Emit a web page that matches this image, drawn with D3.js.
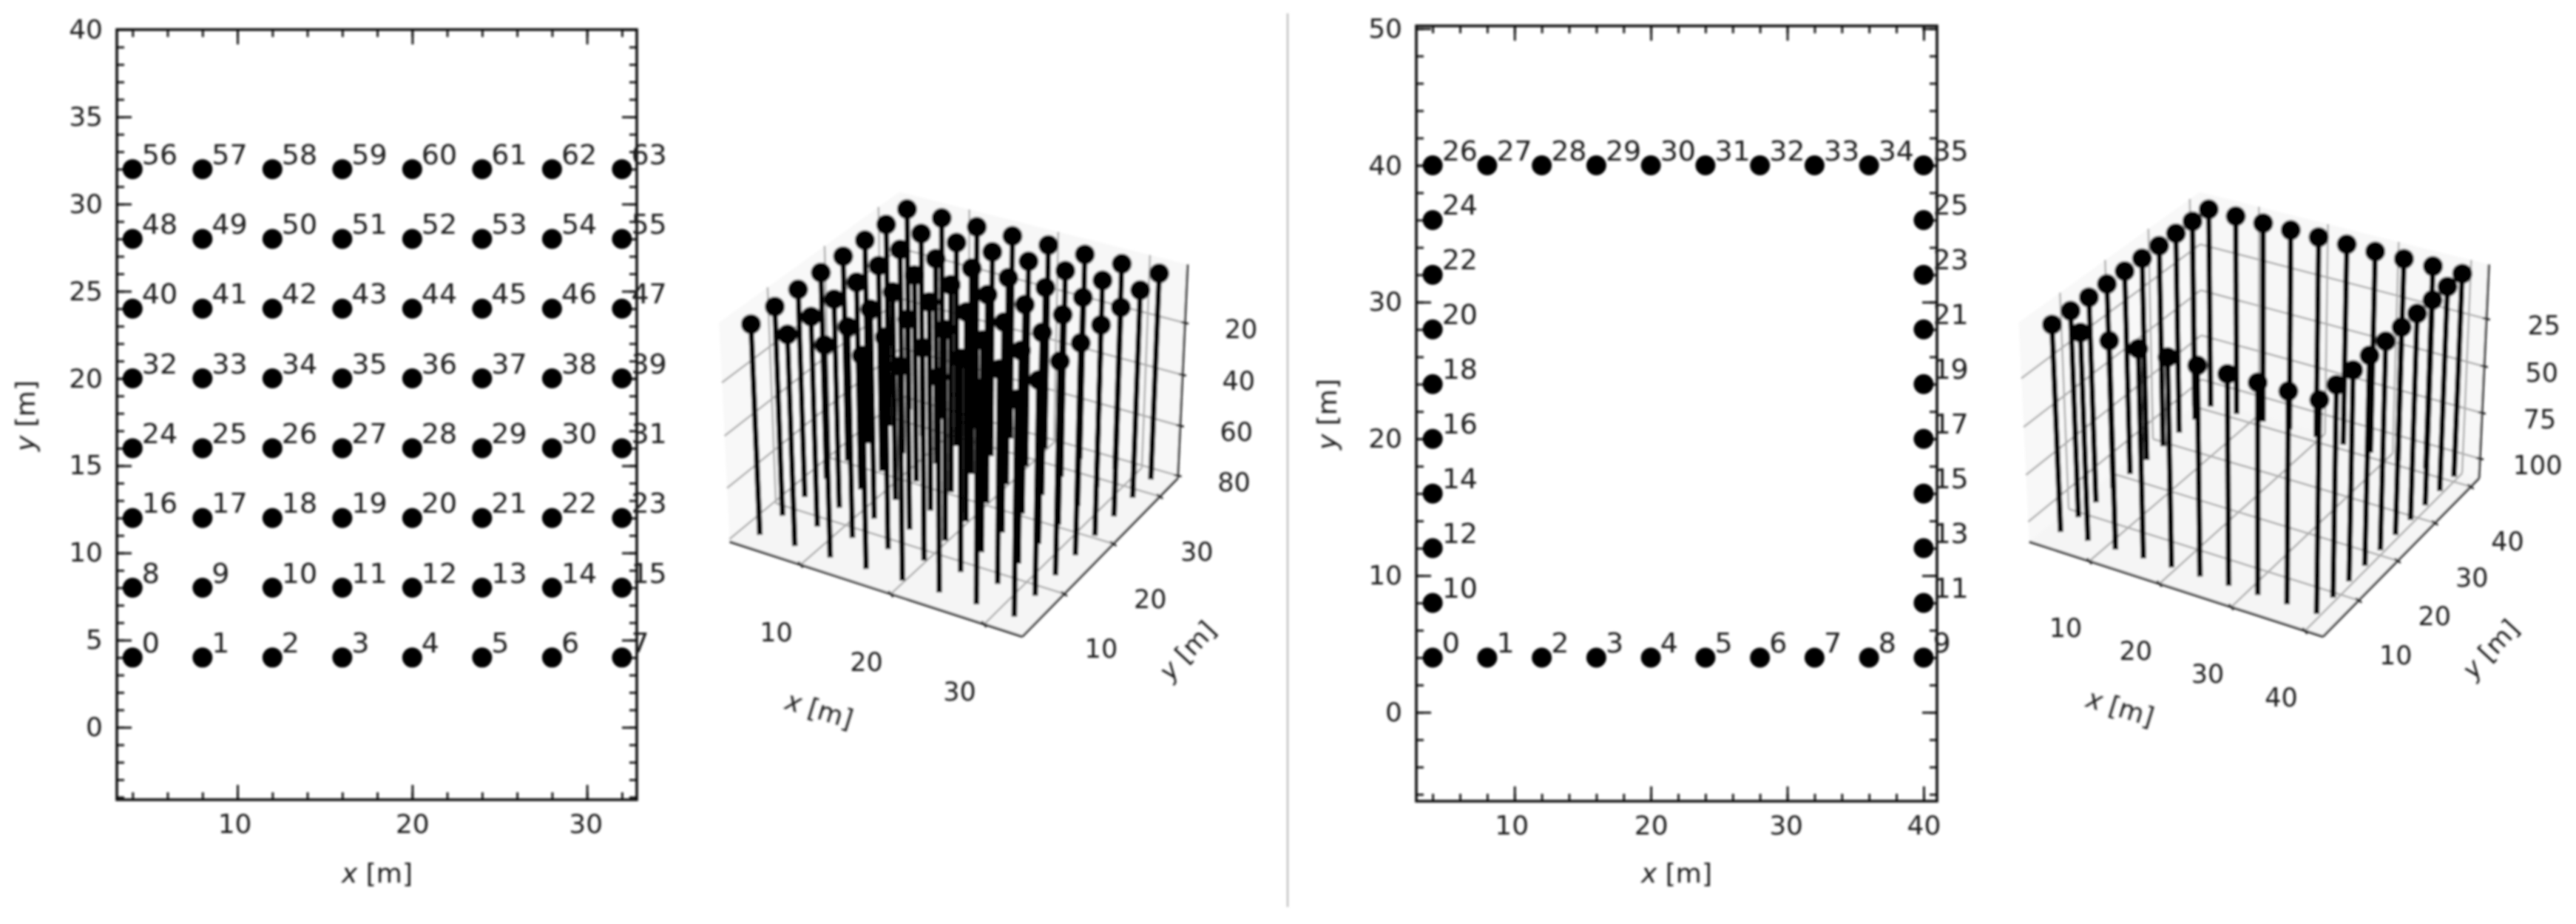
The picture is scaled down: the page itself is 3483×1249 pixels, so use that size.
<!DOCTYPE html>
<html><head><meta charset="utf-8">
<script src="https://cdn.jsdelivr.net/npm/d3@7"></script>
<style>html,body{margin:0;padding:0;background:#fff}svg{display:block}text{font-family:"DejaVu Sans";fill:#1c1c1c}</style>
</head><body><svg id="c" width="3483" height="1249"></svg>
<script>
const gridXs = [4,8,12,16,20,24,28,32];
const gridYs = [4,8,12,16,20,24,28,32];
const ringBottomXs = [4,8,12,16,20,24,28,32,36,40];
const ringSideYs = [8,12,16,20,24,28,32,36];
const ringTopY = 40, ringBottomY = 4, ringLeftX = 4, ringRightX = 40;
const gridDepth = 80, ringDepth = 108;
const ticks2dA = {xMajor:[10,20,30], xMinor:d3.range(4,34,2), yMajor:[0,5,10,15,20,25,30,35,40], yMinor:d3.range(-4,41,1)};
const ticks2dB = {xMajor:[10,20,30,40], xMinor:d3.range(4,42,2), yMajor:[0,10,20,30,40,50], yMinor:d3.range(-6,51,2)};
const ticks3dA = {x:[10,20,30], y:[10,20,30], z:[20,40,60,80]};
const ticks3dB = {x:[10,20,30,40], y:[10,20,30,40], z:[25,50,75,100]};

const gridPts = gridYs.flatMap(y => gridXs.map(x => ({x,y})));
const ringPts = [
  ...ringBottomXs.map(x => ({x,y:ringBottomY})),
  ...ringSideYs.flatMap(y => [{x:ringLeftX,y},{x:ringRightX,y}]),
  ...ringBottomXs.map(x => ({x,y:ringTopY}))
];

const FS = 36, LFS = 38;
const labelNudge = {10:-4,30:-2};
const svg = d3.select('#c');
const defs = svg.append('defs');
defs.append('filter').attr('id','soft').attr('filterUnits','userSpaceOnUse')
  .attr('x',0).attr('y',0).attr('width',3483).attr('height',1249)
  .append('feGaussianBlur').attr('stdDeviation',1.7);
const root = svg.append('g').attr('filter','url(#soft)');

root.append('line').attr('x1',1741).attr('x2',1741).attr('y1',18).attr('y2',1226)
  .attr('stroke','#c0c0c0').attr('stroke-width',2.5);

function panel2d(o){
  const g = root.append('g');
  const x = d3.scaleLinear().domain(o.xd).range([o.l,o.r]);
  const y = d3.scaleLinear().domain(o.yd).range([o.b,o.t]);
  const axes = [
    [()=>d3.axisBottom(x),o.b,'x',true],[()=>d3.axisTop(x),o.t,'x',false],
    [()=>d3.axisLeft(y),o.l,'y',true],[()=>d3.axisRight(y),o.r,'y',false]
  ];
  axes.forEach(([ax,pos,k,lab]) => {
    const tr = k==='x' ? `translate(0,${pos})` : `translate(${pos},0)`;
    const major = k==='x'?o.ticks.xMajor:o.ticks.yMajor, minor = k==='x'?o.ticks.xMinor:o.ticks.yMinor;
    const a1 = ax().tickValues(minor).tickSize(-10).tickFormat(()=>'');
    const am = g.append('g').attr('transform',tr).call(a1);
    const a2 = ax().tickValues(major).tickSize(-20).tickPadding(19).tickFormat(lab?d3.format('d'):()=>'');
    const aM = g.append('g').attr('transform',tr).call(a2);
    [am,aM].forEach(s=>{s.select('.domain').remove();
      s.selectAll('line').attr('stroke','#111').attr('stroke-width',2.8);
      s.selectAll('text').attr('font-size',FS).attr('font-family','DejaVu Sans').attr('fill','#1c1c1c');});
    if(k==='x') aM.selectAll('text').attr('dx',d=>labelNudge[d]||0);
  });
  g.append('rect').attr('x',o.l).attr('y',o.t).attr('width',o.r-o.l).attr('height',o.b-o.t)
    .attr('fill','none').attr('stroke','#111').attr('stroke-width',3.6);
  g.selectAll('circle.p').data(o.pts).join('circle').attr('class','p')
    .attr('cx',d=>x(d.x)).attr('cy',d=>y(d.y)).attr('r',13.5).attr('fill','#000');
  g.selectAll('text.n').data(o.pts).join('text').attr('class','n')
    .attr('x',d=>x(d.x)+12.5).attr('y',d=>y(d.y)-7).attr('font-size',LFS).text((d,i)=>i);
  const xl = g.append('text').attr('x',o.xlab[0]).attr('y',o.xlab[1]).attr('font-size',FS).attr('text-anchor','middle');
  xl.append('tspan').attr('font-style','italic').text('x');
  xl.append('tspan').text(' [m]');
  const yl = g.append('text').attr('transform',`translate(${o.ylab[0]},${o.ylab[1]}) rotate(-90)`).attr('font-size',FS).attr('text-anchor','middle');
  yl.append('tspan').attr('font-style','italic').text('y');
  yl.append('tspan').text(' [m]');
}

function camera(o){
  const rad = Math.PI/180, el=o.elev*rad, az=o.azim*rad;
  const asp = o.aspect, n = Math.hypot(...asp), k = 1.8294640721620434*25/24/n;
  const A = asp.map(v=>v*k), R = A.map(v=>v/2);
  const w = [Math.cos(el)*Math.cos(az),Math.cos(el)*Math.sin(az),Math.sin(el)];
  const eye = R.map((v,i)=>v+o.dist*w[i]);
  const cross=(a,b)=>[a[1]*b[2]-a[2]*b[1],a[2]*b[0]-a[0]*b[2],a[0]*b[1]-a[1]*b[0]];
  const dot=(a,b)=>a[0]*b[0]+a[1]*b[1]+a[2]*b[2];
  let u = cross([0,0,1],w); const nu=Math.hypot(...u); u=u.map(v=>v/nu);
  const v = cross(w,u);
  const sx = d3.scaleLinear().domain(o.xlim).range([0,A[0]]);
  const sy = d3.scaleLinear().domain(o.ylim).range([0,A[1]]);
  const sz = d3.scaleLinear().domain(o.zlim).range([A[2],0]); // depth axis points down
  const raw = (x,y,z)=>{const q=[sx(x)-eye[0],sy(y)-eye[1],sz(z)-eye[2]];const d=-dot(w,q);return [dot(u,q)/d,dot(v,q)/d];};
  // least-squares fit of the projection plane to the picture's box corners
  const fit = (idx)=>{const xs=o.anchors.map(c=>raw(o.xlim[c[0]],o.ylim[c[1]],o.zlim[c[2]])[idx]),ys=o.anchors.map(c=>c[3+idx]);
    const mx=d3.mean(xs),my=d3.mean(ys);const b=d3.sum(xs,(q,i)=>(q-mx)*(ys[i]-my))/d3.sum(xs,q=>(q-mx)*(q-mx));return [b,my-b*mx];};
  const fx=fit(0),fy=fit(1);
  return (x,y,z)=>{const r=raw(x,y,z);return [fx[0]*r[0]+fx[1],fy[0]*r[1]+fy[1]];};
}

function panel3d(o){
  const g = root.append('g');
  const P = camera(o);
  const [x0,x1]=o.xlim,[y0,y1]=o.ylim,[zt,zf]=o.zlim;
  const poly=(pts,fill)=>g.append('path').attr('d',d3.line()(pts)+'Z').attr('fill',fill).attr('stroke','none');
  poly([P(x0,y0,zf),P(x1,y0,zf),P(x1,y1,zf),P(x0,y1,zf)],'#f5f5f5');
  poly([P(x0,y0,zf),P(x0,y1,zf),P(x0,y1,zt),P(x0,y0,zt)],'#f8f8f8');
  poly([P(x0,y1,zf),P(x1,y1,zf),P(x1,y1,zt),P(x0,y1,zt)],'#f7f7f7');
  const seg=(a,b,col,w)=>g.append('line').attr('x1',a[0]).attr('y1',a[1]).attr('x2',b[0]).attr('y2',b[1]).attr('stroke',col).attr('stroke-width',w);
  const GC='#aeaeae',GW=2.6;
  o.ticks.x.forEach(t=>{seg(P(t,y0,zf),P(t,y1,zf),GC,GW);seg(P(t,y1,zf),P(t,y1,zt),GC,GW);});
  o.ticks.y.forEach(t=>{seg(P(x1,t,zf),P(x0,t,zf),GC,GW);seg(P(x0,t,zf),P(x0,t,zt),GC,GW);});
  o.ticks.z.forEach(t=>{seg(P(x0,y0,t),P(x0,y1,t),GC,GW);seg(P(x0,y1,t),P(x1,y1,t),GC,GW);});
  const AC='#222',AW=3;
  seg(P(x0,y0,zf),P(x1,y0,zf),AC,AW);seg(P(x1,y0,zf),P(x1,y1,zf),AC,AW);seg(P(x1,y1,zf),P(x1,y1,zt),AC,AW);
  const tick=(p,dx,dy)=>seg([p[0]-dx,p[1]-dy],[p[0]+dx,p[1]+dy],AC,2.6);
  const lab=(p,off,t)=>g.append('text').attr('x',p[0]+off[0]).attr('y',p[1]+off[1]).attr('dy','.36em')
    .attr('text-anchor','middle').attr('font-size',o.fs).text(t);
  o.ticks.x.forEach(t=>{const p=P(t,y0,zf);tick(p,3,4);lab(p,o.offX,t);});
  o.ticks.y.forEach(t=>{const p=P(x1,t,zf);tick(p,4,3);lab(p,o.offY,t);});
  o.ticks.z.forEach(t=>{const p=P(x1,y1,t);tick(p,5,1);lab(p,o.offZ,t);});
  const mk=(pos,rot,first)=>{const t=g.append('text').attr('transform',`translate(${pos[0]},${pos[1]}) rotate(${rot})`)
    .attr('text-anchor','middle').attr('dy','.36em').attr('font-size',o.fs);
    t.append('tspan').attr('font-style','italic').text(first);t.append('tspan').text(' [m]');};
  mk(o.xlab,17,'x');mk(o.ylab,-47,'y');
  // pins, back to front
  const order = o.pts.slice().sort((a,b)=>P(a.x,a.y,zf)[1]-P(b.x,b.y,zf)[1]);
  order.forEach(d=>{
    const a=P(d.x,d.y,0),b=P(d.x,d.y,o.depth);
    seg(a,b,'#000',7.5);
    g.append('circle').attr('cx',a[0]).attr('cy',a[1]).attr('r',13.5).attr('fill','#000');
  });
}

panel2d({l:158,r:861,t:40,b:1081,xd:[3.1,32.85],yd:[-4.15,40],ticks:ticks2dA,pts:gridPts,xlab:[510,1193],ylab:[47,562]});
panel2d({l:1915,r:2619,t:35,b:1083,xd:[2.8,40.98],yd:[-6.5,50.2],ticks:ticks2dB,pts:ringPts,xlab:[2267,1193],ylab:[1807,560]});

panel3d({elev:30,azim:-60,dist:10,aspect:[4,4,3],xlim:[1.9,34],ylim:[1.9,34],zlim:[-2,81],
  anchors:[[0,0,1,986,732],[1,0,1,1383,864],[1,1,1,1593,640],[1,1,0,1605,357],[0,1,0,1215,260],[0,0,0,973,439]],
  ticks:ticks3dA,pts:gridPts,depth:gridDepth,fs:35,offX:[-33,91],offY:[50,74],offZ:[76,8],xlab:[1108,959],ylab:[1605,879]});
panel3d({elev:30,azim:-60,dist:10,aspect:[4,4,3],xlim:[1.2,42.4],ylim:[1.2,42.4],zlim:[-3,110.8],
  anchors:[[0,0,1,2745,732],[1,0,1,3142,864],[1,1,1,3354,643],[1,1,0,3367,354],[0,1,0,2962,265],[0,0,0,2735,434]],
  ticks:ticks3dB,pts:ringPts,depth:ringDepth,fs:35,offX:[-32,90],offY:[50,74],offZ:[78,8],xlab:[2867,956],ylab:[3367,877]});
</script></body></html>
